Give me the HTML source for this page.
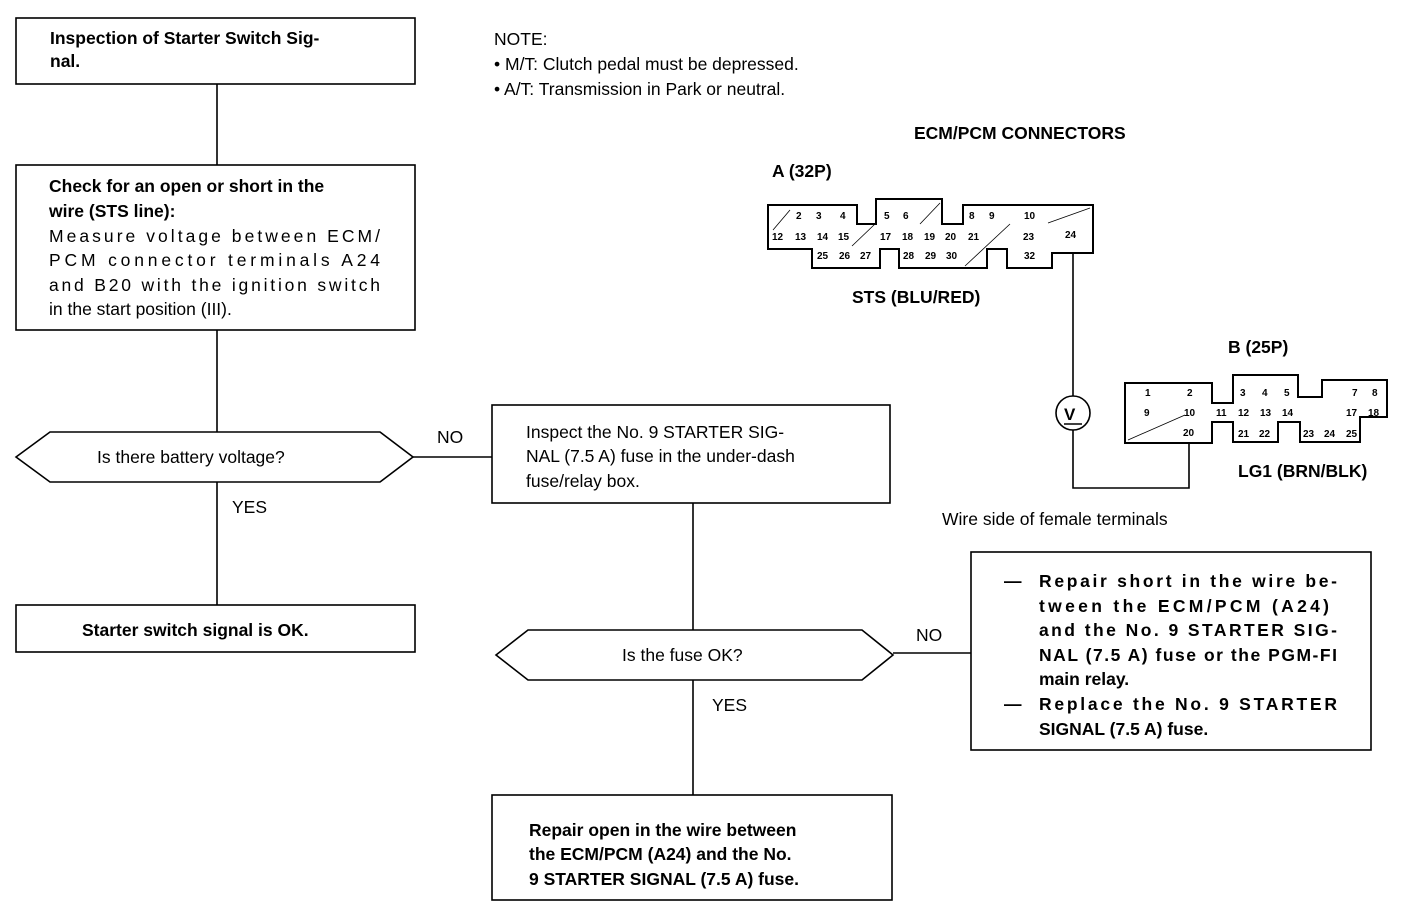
<!DOCTYPE html>
<html><head><meta charset="utf-8"><style>
html,body{margin:0;padding:0;background:#fff;}
svg{display:block;}
text{font-family:"Liberation Sans",Arial,sans-serif;fill:#000;}
.b{font-weight:bold;font-size:17.5px;}
.n{font-size:17.5px;}
.s{font-weight:bold;font-size:10px;}
</style></head><body>
<svg width="1408" height="916" viewBox="0 0 1408 916" xmlns="http://www.w3.org/2000/svg">
<g fill="none" stroke="#000" stroke-width="1.6">
<rect x="16" y="18" width="399" height="66"/>
<line x1="217" y1="84" x2="217" y2="165"/>
<rect x="16" y="165" width="399" height="165"/>
<line x1="217" y1="330" x2="217" y2="432"/>
<polygon points="16,457 50,432 380,432 413,457 380,482 50,482"/>
<line x1="413" y1="457" x2="492" y2="457"/>
<rect x="492" y="405" width="398" height="98"/>
<line x1="217" y1="482" x2="217" y2="605"/>
<rect x="16" y="605" width="399" height="47"/>
<line x1="693" y1="503" x2="693" y2="630"/>
<polygon points="496,655 528,630 862,630 893,655 862,680 528,680"/>
<line x1="893" y1="653" x2="971" y2="653"/>
<rect x="971" y="552" width="400" height="198"/>
<line x1="693" y1="680" x2="693" y2="795"/>
<rect x="492" y="795" width="400" height="105"/>
<!-- connector A -->
<polygon stroke-width="2" points="768,205 857,205 857,224 876,224 876,199 942,199 942,224 963,224 963,205 1093,205 1093,253 1052,253 1052,268 1007,268 1007,249 987,249 987,268 899,268 899,249 880,249 880,268 812,268 812,249 768,249"/>
<line x1="1073" y1="253" x2="1073" y2="396"/>
<circle cx="1073" cy="413" r="17"/>
<polyline points="1073,430 1073,488 1189,488 1189,443"/>
<!-- connector B -->
<polygon stroke-width="2" points="1125,383 1212,383 1212,403 1233,403 1233,375 1298,375 1298,397 1322,397 1322,380 1387,380 1387,417 1360,417 1360,442 1300,442 1300,422 1278,422 1278,442 1233,442 1233,422 1212,422 1212,443 1125,443"/>
<line x1="1128" y1="440" x2="1185" y2="415" stroke-width="0.8"/>
<line x1="773" y1="230" x2="790" y2="210" stroke-width="0.8"/>
<line x1="852" y1="246" x2="875" y2="224" stroke-width="0.8"/>
<line x1="920" y1="224" x2="940" y2="203" stroke-width="0.8"/>
<line x1="965" y1="266" x2="1010" y2="224" stroke-width="0.8"/>
<line x1="1048" y1="223" x2="1090" y2="208" stroke-width="0.8"/>
</g>
<text class="b" x="50" y="44">Inspection of Starter Switch Sig-</text>
<text class="b" x="50" y="67">nal.</text>
<text class="b" x="49" y="192">Check for an open or short in the</text>
<text class="b" x="49" y="217">wire (STS line):</text>
<text class="n" x="49" y="242" textLength="331">Measure voltage between ECM/</text>
<text class="n" x="49" y="266" textLength="331">PCM connector terminals A24</text>
<text class="n" x="49" y="291" textLength="331">and B20 with the ignition switch</text>
<text class="n" x="49" y="315">in the start position (III).</text>
<text class="n" x="97" y="463">Is there battery voltage?</text>
<text class="n" x="437" y="443">NO</text>
<text class="n" x="232" y="513">YES</text>
<text class="b" x="82" y="636">Starter switch signal is OK.</text>
<text class="n" x="526" y="438">Inspect the No. 9 STARTER SIG-</text>
<text class="n" x="526" y="462">NAL (7.5 A) fuse in the under-dash</text>
<text class="n" x="526" y="487">fuse/relay box.</text>
<text class="n" x="622" y="661">Is the fuse OK?</text>
<text class="n" x="916" y="641">NO</text>
<text class="n" x="712" y="711">YES</text>
<text class="b" x="529" y="836">Repair open in the wire between</text>
<text class="b" x="529" y="860">the ECM/PCM (A24) and the No.</text>
<text class="b" x="529" y="885">9 STARTER SIGNAL (7.5 A) fuse.</text>
<text class="b" x="1004" y="587">—</text>
<text class="b" x="1039" y="587" textLength="298">Repair short in the wire be-</text>
<text class="b" x="1039" y="612" textLength="290">tween the ECM/PCM (A24)</text>
<text class="b" x="1039" y="636" textLength="298">and the No. 9 STARTER SIG-</text>
<text class="b" x="1039" y="661" textLength="298">NAL (7.5 A) fuse or the PGM-FI</text>
<text class="b" x="1039" y="685">main relay.</text>
<text class="b" x="1004" y="710">—</text>
<text class="b" x="1039" y="710" textLength="298">Replace the No. 9 STARTER</text>
<text class="b" x="1039" y="735">SIGNAL (7.5 A) fuse.</text>
<text class="n" x="494" y="45">NOTE:</text>
<text class="n" x="494" y="70">• M/T: Clutch pedal must be depressed.</text>
<text class="n" x="494" y="95">• A/T:  Transmission in Park or neutral.</text>
<text class="b" x="914" y="139" font-size="16">ECM/PCM CONNECTORS</text>
<text class="b" x="772" y="177" font-size="16">A (32P)</text>
<text class="b" x="852" y="303" font-size="16">STS (BLU/RED)</text>
<text class="b" x="1228" y="353" font-size="16">B (25P)</text>
<text class="b" x="1238" y="477" font-size="16">LG1 (BRN/BLK)</text>
<text class="n" x="942" y="525" font-size="16.5">Wire side of female terminals</text>
<text x="1064" y="420" font-size="17" font-weight="bold">V</text>
<line x1="1064" y1="424" x2="1082" y2="424" stroke="#000" stroke-width="1.5"/>
<!-- A pins -->
<g class="s">
<text x="796" y="219">2</text><text x="816" y="219">3</text><text x="840" y="219">4</text>
<text x="884" y="219">5</text><text x="903" y="219">6</text>
<text x="969" y="219">8</text><text x="989" y="219">9</text><text x="1024" y="219">10</text>
<text x="772" y="240">12</text><text x="795" y="240">13</text><text x="817" y="240">14</text><text x="838" y="240">15</text>
<text x="880" y="240">17</text><text x="902" y="240">18</text><text x="924" y="240">19</text><text x="945" y="240">20</text><text x="968" y="240">21</text>
<text x="1023" y="240">23</text><text x="1065" y="238">24</text>
<text x="817" y="259">25</text><text x="839" y="259">26</text><text x="860" y="259">27</text>
<text x="903" y="259">28</text><text x="925" y="259">29</text><text x="946" y="259">30</text>
<text x="1024" y="259">32</text>
</g>
<!-- B pins -->
<g class="s">
<text x="1145" y="396">1</text><text x="1187" y="396">2</text>
<text x="1240" y="396">3</text><text x="1262" y="396">4</text><text x="1284" y="396">5</text>
<text x="1352" y="396">7</text><text x="1372" y="396">8</text>
<text x="1144" y="416">9</text><text x="1184" y="416">10</text><text x="1216" y="416">11</text><text x="1238" y="416">12</text><text x="1260" y="416">13</text><text x="1282" y="416">14</text>
<text x="1346" y="416">17</text><text x="1368" y="416">18</text>
<text x="1183" y="436">20</text><text x="1238" y="437">21</text><text x="1259" y="437">22</text>
<text x="1303" y="437">23</text><text x="1324" y="437">24</text><text x="1346" y="437">25</text>
</g>
</svg>
</body></html>
